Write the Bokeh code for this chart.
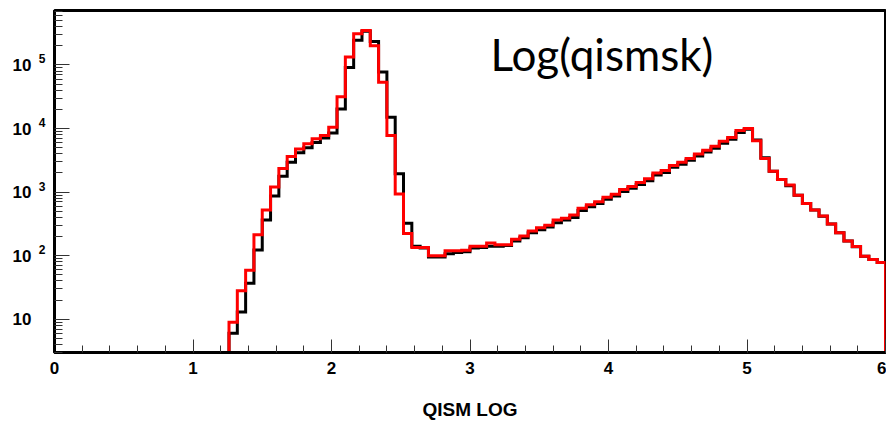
import numpy as np
from bokeh.plotting import figure
from bokeh.models import (Range1d, FixedTicker, Label, CustomJSTickFormatter,
                          LogAxis, LogScale)
from bokeh.embed import file_html
from bokeh.resources import INLINE

# ---------------- data ----------------
x_min, x_max, n_bins = 0.0, 6.0, 100      # histogram definition (bin width 0.06)
first_bin = 21                             # first non-empty bin index (x = 1.26)

red_counts = [
    9, 28, 59, 214, 525, 1200, 2350, 3630, 4790, 5750,
    6900, 7760, 10500, 31600, 133000, 309000, 350000, 200000, 53700, 7760,
    933, 224, 135, 135, 100, 100, 120, 120, 122, 141,
    141, 158, 148, 148, 182, 204, 245, 275, 302, 363,
    389, 437, 556, 631, 708, 832, 923, 1096, 1230, 1413,
    1622, 1995, 2188, 2630, 2950, 3390, 3980, 4570, 5250, 6310,
    7240, 9330, 10000, 6460, 3390, 2140, 1585, 1290, 891, 661,
    525, 422, 316, 229, 170, 140, 98, 87, 78,
]
black_counts = [
    6, 13, 37, 123, 363, 871, 1780, 2950, 4170, 5010,
    6030, 7080, 8510, 20400, 91200, 245000, 339000, 234000, 77600, 15100,
    1950, 324, 141, 132, 95, 95, 107, 112, 115, 132,
    135, 141, 141, 145, 170, 191, 229, 257, 282, 331,
    363, 398, 513, 589, 661, 776, 871, 1023, 1148, 1318,
    1514, 1862, 2042, 2455, 2754, 3162, 3715, 4266, 4898, 5888,
    6761, 8710, 9772, 6607, 3467, 2138, 1585, 1259, 891, 661,
    525, 417, 316, 229, 170, 138, 98, 87, 78,
]

x_major_ticks = [0, 1, 2, 3, 4, 5, 6]
x_minor_step = 0.2
y_major_ticks = [10, 100, 1000, 10000, 100000]
y_label_base = ["10", "10", "10", "10", "10"]
y_label_exp = ["", "2", "3", "4", "5"]
y_min, y_max = 3.0, 7.2e5

x_title = "QISM LOG"
annotation = "Log(qismsk)"

# ---------------- figure ----------------
p = figure(width=886, height=427, x_range=Range1d(x_min, x_max),
           y_range=Range1d(y_min, y_max), y_axis_type="log",
           output_backend="svg", toolbar_location=None,
           min_border_left=54, min_border_right=1, min_border_top=10,
           min_border_bottom=75)
p.background_fill_color = "white"
p.border_fill_color = "white"
p.grid.visible = False
p.outline_line_color = "black"
p.outline_line_width = 3

edges = np.linspace(x_min, x_max, n_bins + 1)


def step_path(counts):
    c = np.asarray(counts, dtype=float)
    lo = edges[first_bin:first_bin + len(c)]
    hi = edges[first_bin + 1:first_bin + len(c) + 1]
    xs = np.column_stack([lo, hi]).ravel()
    ys = np.column_stack([c, c]).ravel()
    floor = y_min / 10.0
    xs = np.concatenate([[lo[0]], xs, [hi[-1]]])
    ys = np.concatenate([[floor], ys, [floor]])
    return xs, ys


bx, by = step_path(black_counts)
rx, ry = step_path(red_counts)
p.line(bx, by, line_color="black", line_width=3, line_join="miter")
p.line(rx, ry, line_color="#ff0000", line_width=3, line_join="miter")

# ---------------- axes ----------------
n_minor = int(round((x_max - x_min) / x_minor_step))
p.xaxis.ticker = FixedTicker(ticks=x_major_ticks,
                             minor_ticks=[x_min + i * x_minor_step for i in range(n_minor + 1)])
main_y = p.yaxis[0]
main_y.ticker = FixedTicker(ticks=y_major_ticks,
                            minor_ticks=[m * 10.0 ** k for k in range(0, 7) for m in range(2, 10)])

for ax in (p.xaxis[0], main_y):
    ax.axis_line_color = "black"
    ax.axis_line_width = 3
    ax.major_tick_line_color = "#333333"
    ax.minor_tick_line_color = "#333333"
    ax.major_tick_out = 0
    ax.minor_tick_out = 0

p.xaxis.major_tick_in = 13
p.xaxis.minor_tick_in = 7
main_y.major_tick_in = 15
main_y.minor_tick_in = 8
main_y.major_label_standoff = 0
main_y.formatter = CustomJSTickFormatter(code="return ''")

p.xaxis.major_label_text_font = "Liberation Sans"
p.xaxis.major_label_text_font_style = "bold"
p.xaxis.major_label_text_font_size = "17px"
p.xaxis.major_label_text_color = "black"
p.xaxis.major_label_standoff = 9
p.xaxis.axis_label = x_title
p.xaxis.axis_label_text_font = "Liberation Sans"
p.xaxis.axis_label_text_font_style = "bold"
p.xaxis.axis_label_text_font_size = "19px"
p.xaxis.axis_label_text_color = "black"
p.xaxis.axis_label_standoff = 22

# y tick labels "10" + raised exponent: two label-only axes outside the main one.
# The exponent axis uses a range shifted so its labels sit ~6 px higher.
raise_factor = 10 ** (6 / 63.5)
p.extra_y_ranges = {"exp": Range1d(y_min / raise_factor, y_max / raise_factor)}
p.extra_y_scales = {"exp": LogScale()}

pick = """
const i = vals.findIndex(v => Math.abs(v - tick) <= 1e-6 * v);
return i < 0 ? '' : labs[i];
"""


def label_axis(range_name, labels, size, standoff):
    ax = LogAxis(y_range_name=range_name,
                 ticker=FixedTicker(ticks=y_major_ticks, minor_ticks=[]),
                 formatter=CustomJSTickFormatter(args=dict(vals=y_major_ticks, labs=labels),
                                                 code=pick))
    ax.axis_line_color = None
    ax.major_tick_line_color = None
    ax.minor_tick_line_color = None
    ax.major_tick_in = 0
    ax.major_tick_out = 0
    ax.minor_tick_in = 0
    ax.minor_tick_out = 0
    ax.major_label_standoff = standoff
    ax.major_label_text_font = "Liberation Sans"
    ax.major_label_text_font_style = "bold"
    ax.major_label_text_font_size = size
    ax.major_label_text_color = "black"
    return ax


exp_axis = label_axis("exp", y_label_exp, "12px", 9)
base_axis = label_axis("default", y_label_base, "17px", 4)
p.left = [main_y, exp_axis, base_axis]

p.add_layout(Label(x=436, y=299, x_units="screen", y_units="screen",
                   text=annotation, text_align="left", text_baseline="alphabetic",
                   text_font="Lato", text_font_size="44px", text_color="black"))

open("out.html", "w").write(file_html(p, INLINE))
